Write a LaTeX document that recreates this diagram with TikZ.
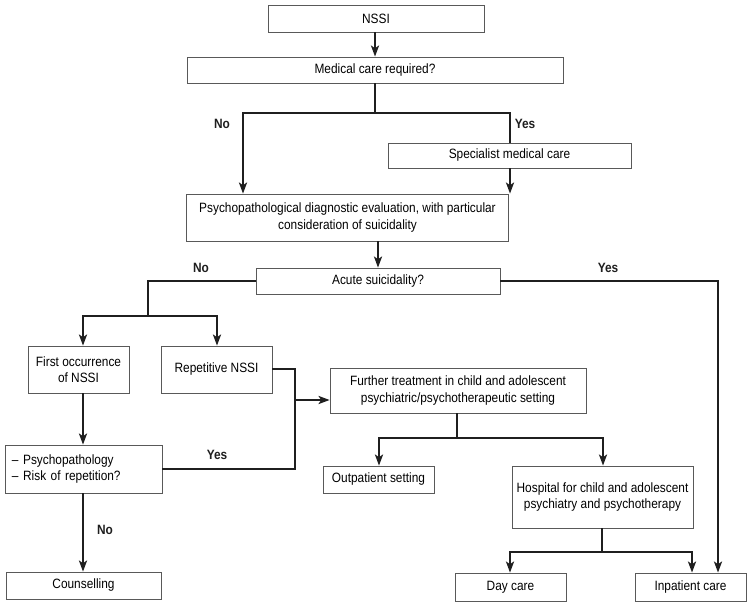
\documentclass[tikz,border=0pt]{standalone}
\usepackage{fontspec}
\setmainfont[FakeStretch=0.88]{Liberation Sans}
\usetikzlibrary{arrows.meta}
\begin{document}
\begin{tikzpicture}[x=1pt,y=-1pt,
  box/.style={draw=black!65, line width=0.8pt, inner sep=0pt, align=center, fill=white,
    font=\fontsize{13.5}{16.5}\selectfont},
  conn/.style={line width=2.5pt, draw=black!88},
  arr/.style={conn, -{Stealth[length=11pt,width=8pt,inset=2.5pt]}},
  lab/.style={font=\fontsize{13.5}{15}\selectfont\bfseries, text=black!88}
]
\useasboundingbox (0,0) rectangle (751,607);
\fill[white] (0,0) rectangle (751,607);

% boxes
\node[box, minimum width=216pt, minimum height=27pt] (nssi) at (376,18.5) {NSSI};
\node[box, minimum width=376pt, minimum height=26pt] (med) at (375,70) {Medical care required?};
\node[box, minimum width=243pt, minimum height=25pt] (spec) at (509.5,155.5) {Specialist medical care};
\node[box, minimum width=322pt, minimum height=47pt] (psy) at (347.5,217.5) {Psychopathological diagnostic evaluation, with particular\\consideration of suicidality};
\node[box, minimum width=244pt, minimum height=26pt] (acute) at (378,281) {Acute suicidality?};
\node[box, minimum width=101pt, minimum height=47pt] (first) at (78.5,369.5) {First occurrence\\of NSSI};
\node[box, minimum width=111pt, minimum height=47pt] (rep) at (216.5,369.5) {Repetitive NSSI};
\node[box, minimum width=157pt, minimum height=48pt, text width=143pt, inner xsep=7pt, align=left] (risk) at (83.5,469) {-- Psychopathology\\-- Risk of repetition?};
\node[box, minimum width=155pt, minimum height=27pt] (couns) at (83.5,585.5) {Counselling};
\node[box, minimum width=256pt, minimum height=45pt] (further) at (458,390.5) {Further treatment in child and adolescent\\psychiatric/psychotherapeutic setting};
\node[box, minimum width=111pt, minimum height=27pt] (outp) at (378.5,479.5) {Outpatient setting};
\node[box, minimum width=181pt, minimum height=62pt] (hosp) at (602.5,497) {Hospital for child and adolescent\\psychiatry and psychotherapy};
\node[box, minimum width=111pt, minimum height=28pt] (day) at (510.5,587) {Day care};
\node[box, minimum width=111pt, minimum height=28pt] (inp) at (690.5,587) {Inpatient care};

% junction coordinates
\coordinate (j1) at (375,113);
\coordinate (jL) at (243,113);
\coordinate (jR) at (510,113);
\coordinate (aL) at (148,281);
\coordinate (b1) at (148,316);
\coordinate (jF) at (83,316);
\coordinate (jP) at (217,316);
\coordinate (aR) at (718,281);
\coordinate (r1) at (295,369);
\coordinate (r2) at (295,400);
\coordinate (f1) at (457,438);
\coordinate (fL) at (379,438);
\coordinate (fR) at (603,438);
\coordinate (h1) at (602,552);
\coordinate (hL) at (510,552);
\coordinate (hR) at (692,552);

% connectors
\draw[arr] (nssi.south -| j1) -- (j1 |- med.north);
\draw[conn] (med.south -| j1) -- (j1);
\draw[arr] (j1) -- (jL) -- (jL |- psy.north);
\draw[conn] (j1) -- (jR) -- (jR |- spec.north);
\draw[arr] (spec.south -| jR) -- (jR |- psy.north);
\draw[arr] (acute.north |- psy.south) -- (acute.north);
\draw[conn] (acute.west) -- (aL) -- (b1);
\draw[arr] (b1) -- (jF) -- (jF |- first.north);
\draw[arr] (b1) -- (jP) -- (jP |- rep.north);
\draw[arr] (acute.east) -- (aR) -- (aR |- inp.north);
\draw[arr] (first.south -| jF) -- (jF |- risk.north);
\draw[arr] (risk.south -| jF) -- (jF |- couns.north);
\draw[conn] (rep.east |- r1) -- (r1) -- (r1 |- risk.east) -- (risk.east);
\draw[arr] (r2) -- (r2 -| further.west);
\draw[conn] (further.south -| f1) -- (f1);
\draw[arr] (f1) -- (fL) -- (fL |- outp.north);
\draw[arr] (f1) -- (fR) -- (fR |- hosp.north);
\draw[conn] (hosp.south -| h1) -- (h1);
\draw[arr] (h1) -- (hL) -- (hL |- day.north);
\draw[arr] (h1) -- (hR) -- (hR |- inp.north);

% labels
\node[lab] (no1) at (222,124) {No};
\node[lab] (yes1) at (525,124) {Yes};
\node[lab] (no2) at (201,268) {No};
\node[lab] (yes2) at (608,268) {Yes};
\node[lab] (yes3) at (217,455) {Yes};
\node[lab] (no3) at (105,530) {No};
\end{tikzpicture}
\end{document}
